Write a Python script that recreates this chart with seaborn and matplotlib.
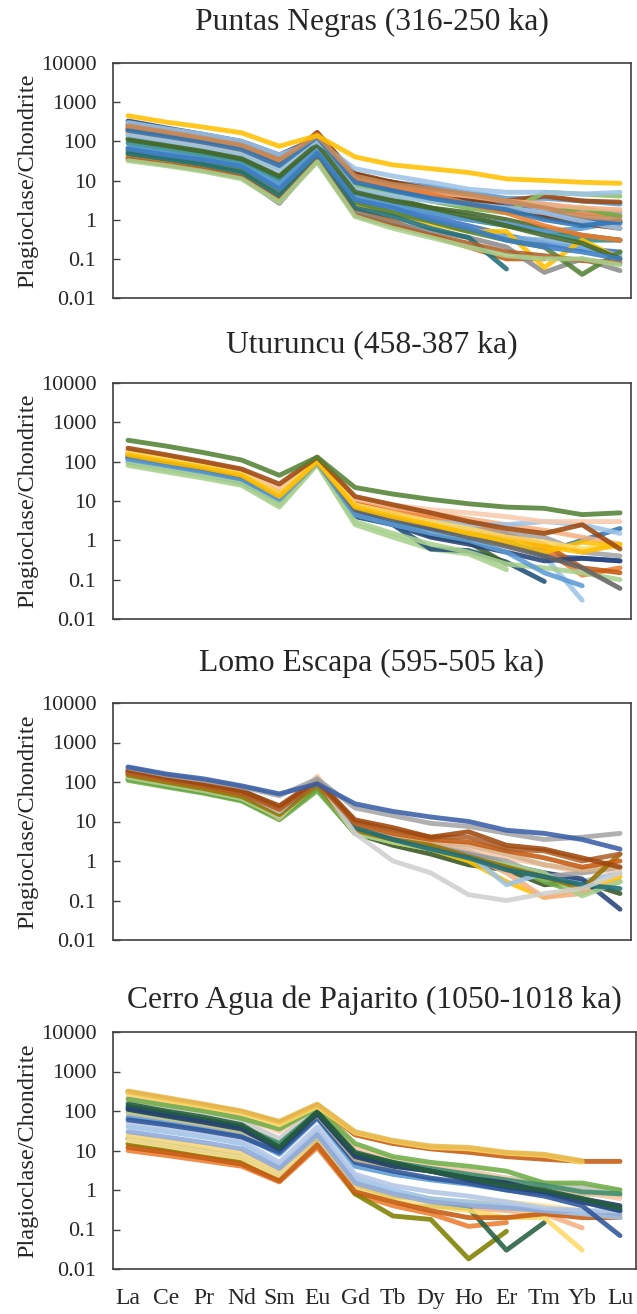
import numpy as np
import pandas as pd
import matplotlib
matplotlib.use("Agg")
import matplotlib.pyplot as plt
import seaborn as sns

elements = ["La", "Ce", "Pr", "Nd", "Sm", "Eu", "Gd", "Tb", "Dy", "Ho", "Er", "Tm", "Yb", "Lu"]
ytick_values = [0.01, 0.1, 1, 10, 100, 1000, 10000]
ytick_labels = ["0.01", "0.1", "1", "10", "100", "1000", "10000"]
titles = ["Puntas Negras (316-250 ka)", "Uturuncu (458-387 ka)",
          "Lomo Escapa (595-505 ka)", "Cerro Agua de Pajarito (1050-1018 ka)"]
nan = float("nan")

puntas_negras = [
    [280, 200, 140, 95, 40, 110, 12, 9, 7, 5, 3.5, 3.5, 3, 2.5],
    [220, 150, 110, 75, 30, 160, 14, 8, 5, 3.5, 2.5, 2.2, 1.5, 1.3],
    [200, 140, 100, 70, 30, 130, 10, 6, 5, 4, 3, 2.5, 1.8, 1.5],
    [180, 130, 90, 60, 25, 170, 12, 9, 6, 4, 3, 4, 3, 2.8],
    [150, 105, 75, 50, 20, 120, 8, 5, 3, 2, 1.5, 1.4, 2, 1.2],
    [120, 80, 55, 35, 12, 90, 6, 3.5, 2, 1.5, 1.0, 0.6, 0.4, 0.3],
    [330, 220, 150, 100, 45, 120, 14, 8, 4.5, 3, 2, 1.2, 0.8, 0.9],
    [260, 180, 125, 80, 30, 110, 10, 6, 4, 3, 2.2, 1.5, 1.0, 0.8],
    [170, 120, 85, 55, 22, 100, 7, 4.5, 3, 2.2, 1.5, 5, 4.5, 4],
    [90, 60, 45, 30, 10, 60, 5, 2.5, 1.5, 1.0, 0.7, 0.5, 0.3, 0.3],
    [60, 45, 32, 22, 7, 55, 3.5, 2, 1.2, 0.7, 0.4, 0.25, 0.18, 0.15],
    [50, 38, 28, 18, 5, 50, 3, 1.6, 1.0, 0.6, 0.35, 0.3, 0.2, 0.12],
    [40, 30, 21, 13, 3.5, 40, 1.8, 0.9, 0.4, 0.2, 0.1, 0.1, nan, nan],
    [35, 25, 18, 12, 2.6, 35, 1.5, 0.8, 0.5, 0.35, 0.2, 0.045, 0.1, 0.05],
    [45, 32, 24, 16, 4.5, 50, 2.5, 1.5, 0.8, 0.5, 0.5, 0.06, 0.3, 0.1],
    [55, 40, 28, 18, 5, 55, 2.8, 1.5, 0.9, 0.5, 0.3, 0.2, 0.04, 0.15],
    [48, 35, 25, 16, 4, 40, 2, 1.2, 0.6, 0.35, 0.055, nan, nan, nan],
    [70, 50, 35, 24, 8, 65, 4, 2.5, 1.5, 1.0, 0.8, 0.5, 0.6, 0.9],
    [210, 150, 100, 70, 28, 150, 15, 9, 5, 3.5, 2, 1.2, 0.8, 0.6],
    [160, 115, 80, 55, 22, 120, 10, 7, 5, 4, 3, 2.5, 2, 1.8],
    [140, 100, 70, 45, 18, 95, 6, 4, 3, 2.5, 2.0, 1.5, 0.9, 0.6],
    [230, 160, 115, 75, 32, 150, 11, 7, 4.5, 2.5, 1.5, 0.7, 0.4, 0.3],
    [110, 78, 55, 36, 13, 85, 5, 3, 2, 1.2, 0.7, 0.4, 0.25, 0.1],
    [300, 210, 150, 100, 45, 100, 20, 13, 9, 6, 5, 5, 4.5, 5],
    [190, 135, 95, 62, 24, 130, 9, 5.5, 3.5, 2.5, 1.8, 1.0, 0.7, 0.9],
    [250, 175, 120, 80, 34, 140, 13, 8, 6, 4.5, 3, 2, 1.2, 1.0],
    [36, 26, 19, 12, 3, 32, 1.3, 0.7, 0.4, 0.25, 0.15, 0.12, 0.09, 0.08],
    [32, 24, 17, 11, 2.8, 30, 1.2, 0.6, 0.35, 0.2, 0.12, 0.1, 0.1, 0.07],
    [65, 45, 34, 23, 6, 50, 3.2, 2, 1.0, 0.6, 0.3, 0.2, 0.15, 0.1],
    [450, 310, 230, 165, 75, 140, 40, 25, 20, 16, 11, 10, 9, 8.5],
]

uturuncu = [
    [110, 75, 50, 32, 12, 90, 5, 3, 2, 1.3, 0.8, 0.4, 0.03, nan],
    [80, 55, 38, 25, 7, 85, 2.5, 1.2, 0.6, 0.45, 0.18, nan, nan, nan],
    [120, 85, 58, 38, 11, 100, 4, 2.5, 0.6, 0.55, 0.28, 0.09, nan, nan],
    [130, 90, 60, 40, 12, 110, 5, 3, 1.3, 0.9, 0.25, nan, nan, nan],
    [140, 95, 65, 42, 14, 115, 6, 3.5, 2, 1.5, 1.0, 0.4, 0.35, 0.3],
    [100, 70, 48, 30, 10, 95, 5, 3, 2, 1.5, 0.8, 0.5, 1.0, 2.0],
    [180, 125, 85, 55, 20, 125, 10, 6, 4, 2.5, 1.5, 0.6, 0.13, 0.2],
    [160, 110, 75, 48, 17, 120, 9, 5, 3, 2, 1.3, 0.8, 0.2, 0.15],
    [130, 90, 62, 40, 13, 105, 6, 3.5, 2.5, 2, 1.5, 1.2, 0.5, 0.4],
    [190, 130, 90, 58, 20, 125, 11, 7, 5, 3.5, 2.5, 1.8, 1.2, 0.8],
    [105, 72, 50, 33, 11, 95, 6, 4, 3, 2.5, 2.5, 3, 2.5, 1.5],
    [160, 110, 75, 48, 16, 115, 7, 4, 2.5, 1.5, 0.8, 0.5, 0.9, 0.7],
    [90, 62, 43, 28, 8, 90, 3, 1.5, 0.8, 0.5, 0.25, 0.2, 0.15, 0.1],
    [125, 85, 58, 37, 12, 100, 5, 2.5, 1.2, 0.8, 0.5, 0.3, 0.35, 0.3],
    [115, 80, 55, 36, 11, 100, 4.5, 2.5, 1.5, 1.0, 0.5, 0.15, 0.07, nan],
    [145, 100, 68, 44, 14, 110, 6, 3.5, 2, 1.2, 0.7, 0.4, 0.2, 0.06],
    [200, 140, 95, 60, 22, 120, 12, 8, 6, 5, 4, 3, 3, 3],
    [170, 120, 80, 50, 15, 110, 8, 5, 3, 2, 1.2, 0.9, 0.6, 0.7],
    [150, 100, 70, 45, 13, 100, 7, 4, 2.5, 1.5, 1.0, 0.7, 0.5, 0.8],
    [220, 150, 100, 65, 27, 130, 13, 8, 5, 3, 2, 1.5, 2.5, 0.6],
    [350, 250, 170, 110, 45, 130, 22, 15, 11, 8.5, 7, 6.5, 4.5, 5],
]

lomo_escapa = [
    [120, 80, 55, 35, 12, 70, 5, 2.5, 1.5, 0.8, 0.6, 0.25, 0.3, 0.15],
    [110, 75, 52, 33, 11, 60, 5, 3, 2, 1, 0.8, 0.3, 0.15, 0.3],
    [150, 100, 70, 45, 14, 90, 6, 3, 2, 1.0, 0.3, 0.12, 0.2, 0.4],
    [160, 105, 72, 46, 14, 95, 6, 3.5, 2.5, 1.5, 0.5, 0.12, 0.15, 0.3],
    [140, 95, 65, 42, 15, 130, 7, 4, 2.5, 1.5, 0.25, 0.5, 0.3, 0.5],
    [200, 135, 95, 62, 22, 110, 8, 4, 2.5, 1.8, 0.8, 0.5, 0.35, 0.06],
    [190, 125, 88, 58, 15, 140, 8, 4, 3, 2, 1.2, 0.8, 0.5, 0.6],
    [170, 110, 78, 50, 17, 120, 7, 4, 2.5, 1.5, 1, 0.4, 0.5, 0.7],
    [160, 108, 75, 48, 12, 120, 7, 4, 3, 2.5, 1.5, 0.8, 0.6, 0.7],
    [130, 88, 60, 38, 13, 90, 5, 3, 2, 1.2, 0.8, 0.5, 0.13, 0.3],
    [150, 100, 68, 43, 15, 85, 6, 3.5, 2.5, 1.3, 0.7, 0.4, 0.2, 1.5],
    [175, 118, 82, 53, 18, 105, 7, 3.5, 2, 1.2, 0.6, 0.4, 0.25, 0.2],
    [180, 120, 85, 55, 18, 120, 5, 1.0, 0.5, 0.14, 0.1, 0.15, 0.2, 0.5],
    [170, 115, 80, 52, 20, 100, 9, 5, 3.5, 3, 1.8, 1.2, 0.7, 1.0],
    [180, 120, 85, 55, 22, 100, 10, 6, 4, 4, 2, 1.8, 1, 1.5],
    [200, 130, 90, 60, 25, 110, 11, 7, 4, 5.5, 2.5, 2, 1.2, 0.7],
    [230, 150, 110, 75, 45, 120, 22, 14, 9, 7.5, 5, 3.5, 4, 5],
    [240, 160, 120, 80, 50, 90, 28, 18, 13, 10, 6, 5, 3.5, 2],
]

cerro_agua = [
    [10, 7.5, 5.5, 4, 1.6, 12, 0.8, 0.4, 0.25, 0.12, 0.15, nan, nan, nan],
    [14, 10, 7, 5, 1.8, 15, 1.0, 0.5, 0.4, 0.35, 0.3, 0.25, 0.11, nan],
    [15, 11, 8, 5.5, 2, 18, 0.8, 0.22, 0.18, 0.018, 0.09, nan, nan, nan],
    [20, 14, 10, 7, 2.5, 20, 1.2, 0.6, 0.4, 0.35, 0.03, 0.15, nan, nan],
    [25, 18, 13, 9, 3, 25, 1.3, 0.6, 0.4, 0.3, 0.2, 0.2, 0.03, nan],
    [18, 13, 9, 6.5, 2.2, 15, 1.0, 0.5, 0.5, 0.5, 0.5, 0.4, 0.3, 0.25],
    [22, 16, 11, 8, 2.8, 22, 1.5, 0.8, 0.6, 0.45, 0.35, 0.25, 0.25, 0.3],
    [12, 9, 6.5, 4.5, 1.7, 14, 0.9, 0.5, 0.3, 0.2, 0.2, 0.25, 0.2, 0.2],
    [40, 30, 22, 15, 4, 30, 2, 1.0, 0.6, 0.5, 0.4, 0.3, 0.25, 0.2],
    [30, 22, 16, 11, 3.5, 25, 1.5, 0.8, 0.5, 0.4, 0.35, 0.3, 0.3, 0.25],
    [50, 37, 27, 18, 5, 40, 2.5, 1.3, 0.9, 0.7, 0.5, 0.35, 0.3, 0.3],
    [70, 50, 36, 24, 8, 65, 4, 2.5, 1.8, 1.4, 1.0, 0.8, 0.5, 0.3],
    [60, 45, 32, 22, 9, 70, 5, 3, 2, 1.5, 1.0, 0.7, 0.4, 0.07],
    [90, 65, 45, 30, 13, 80, 6, 4, 3, 2.5, 1.5, 1.0, 0.8, 0.7],
    [100, 70, 50, 33, 15, 85, 7, 4, 3, 2.5, 2, 1.5, 1.2, 0.8],
    [170, 120, 85, 55, 20, 110, 10, 5, 3.5, 3, 2, 1.5, 1.2, 1.0],
    [220, 150, 105, 70, 30, 130, 12, 6, 4, 3, 2, 1.2, 0.9, 0.6],
    [200, 140, 100, 65, 35, 120, 15, 7, 5, 4, 3, 1.5, 1.5, 1.0],
    [120, 85, 60, 40, 15, 95, 8, 5, 3.5, 2.5, 1.8, 1.3, 0.9, 0.8],
    [110, 75, 52, 35, 11, 85, 7, 4, 3, 2, 1.5, 0.9, 0.6, 0.4],
    [130, 90, 60, 40, 11, 90, 8, 4.5, 3, 1.8, 1.2, 0.9, 0.5, 0.3],
    [150, 100, 70, 45, 12, 95, 9, 5, 3, 2, 1.3, 1.0, 0.6, 0.35],
    [300, 200, 140, 95, 50, 140, 25, 15, 11, 9, 7, 6, 5.3, 5.3],
    [280, 190, 130, 90, 45, 130, 28, 17, 12, 11, 8.5, 7.5, 5, nan],
    [320, 220, 150, 100, 55, 150, 30, 18, 13, 12, 9, 8, 5.5, nan],
]

panels = [puntas_negras, uturuncu, lomo_escapa, cerro_agua]

colors_pn = ["#5B9BD5", "#ED7D31", "#A5A5A5", "#9E480E", "#70AD47", "#43682B",
             "#264478", "#4472C4", "#8CC168", "#2E8B8B", "#4472C4", "#7CAFDD",
             "#C55A11", "#8C8C8C", "#FFC000", "#548235", "#1F6E78", "#5B9BD5",
             "#843C0C", "#F4B183", "#9DC3E6", "#ED7D31", "#43682B", "#9DC3E6",
             "#2E75B6", "#C58A5A", "#B0602A", "#A9D18E", "#3C7DC4", "#FFC000"]
colors_ut = ["#9DC3E6", "#A9D18E", "#1F4E79", "#3A5F2A", "#4472C4", "#2E75B6",
             "#ED7D31", "#C55A11", "#A5A5A5", "#F4B183", "#9DC3E6", "#FFC000",
             "#A9D18E", "#264478", "#5B9BD5", "#636363", "#F8CBAD", "#FFD966",
             "#FFC000", "#9E480E", "#548235"]
colors_le = ["#375623", "#70AD47", "#FFC000", "#F4B183", "#9DC3E6", "#264478",
             "#F8CBAD", "#A5A5A5", "#D9B38C", "#A9D18E", "#997300", "#1F6E78",
             "#D0D0D0", "#C55A11", "#B0602A", "#9E480E", "#A5A5A5", "#3A5FA8"]
colors_ca = ["#ED7D31", "#F4B183", "#808000", "#255E40", "#FFD966", "#FFE699",
             "#F2D98C", "#C55A11", "#9DC3E6", "#8EA9DB", "#B4C7E7", "#5B9BD5",
             "#2F5597", "#C9B38C", "#A9D18E", "#C9C9C9", "#F8CBAD", "#70AD47",
             "#3C8C6E", "#1F3864", "#264478", "#235E3A", "#C55A11", "#FFD966",
             "#E6B84D"]
palettes = [colors_pn, colors_ut, colors_le, colors_ca]

sns.set_style("white")
plt.rcParams["font.family"] = ["Liberation Serif", "DejaVu Serif"]

W, H = 637, 1314
fig = plt.figure(figsize=(W / 100, H / 100), dpi=100)

# (left, right, top, bottom, title_y) in pixels
boxes = [(113, 631, 63, 298, 22),
         (113, 631, 383, 619, 345),
         (113, 631, 703, 940, 663),
         (113, 636, 1032, 1269, 1000)]

xpos = np.arange(len(elements))
for i, (data, pal, (l, r, t, b, ty)) in enumerate(zip(panels, palettes, boxes)):
    ax = fig.add_axes([l / W, 1 - b / H, (r - l) / W, (b - t) / H])
    rows = []
    for s, vals in enumerate(data):
        for j, v in enumerate(vals):
            rows.append({"sample": s, "pos": xpos[j], "value": v})
    df = pd.DataFrame(rows).dropna()
    sns.lineplot(data=df, x="pos", y="value", hue="sample", palette=pal,
                 legend=False, lw=3.5, sort=False, estimator=None, ax=ax,
                 alpha=0.88)
    ax.set_yscale("log")
    ax.set_ylim(0.01, 10000)
    span = 13 / (620 - 128)
    ax.set_xlim(-(128 - l) * span, 13 + (r - 620) * span)
    ax.set_yticks(ytick_values, ytick_labels)
    ax.yaxis.set_minor_locator(matplotlib.ticker.NullLocator())
    ax.tick_params(axis="y", direction="in", length=5, width=1, color="#404040",
                   labelsize=16, pad=12, left=True)
    if i == 3:
        ax.set_xticks(xpos, elements)
        ax.tick_params(axis="x", length=0, labelsize=17, pad=14)
    else:
        ax.set_xticks([])
    ax.set_xlabel("")
    ax.set_ylabel("Plagioclase/Chondrite", fontsize=17.5)
    ax.yaxis.set_label_coords(-(113 - 38) / (r - l), 0.5)
    for sp in ax.spines.values():
        sp.set_color("#404040")
        sp.set_linewidth(1.2)
        sp.set_visible(True)
    fig.text(((l + r) / 2) / W, 1 - ty / H, titles[i], ha="center", va="center",
             fontsize=22.8)

fig.savefig("out.png", dpi=100)
